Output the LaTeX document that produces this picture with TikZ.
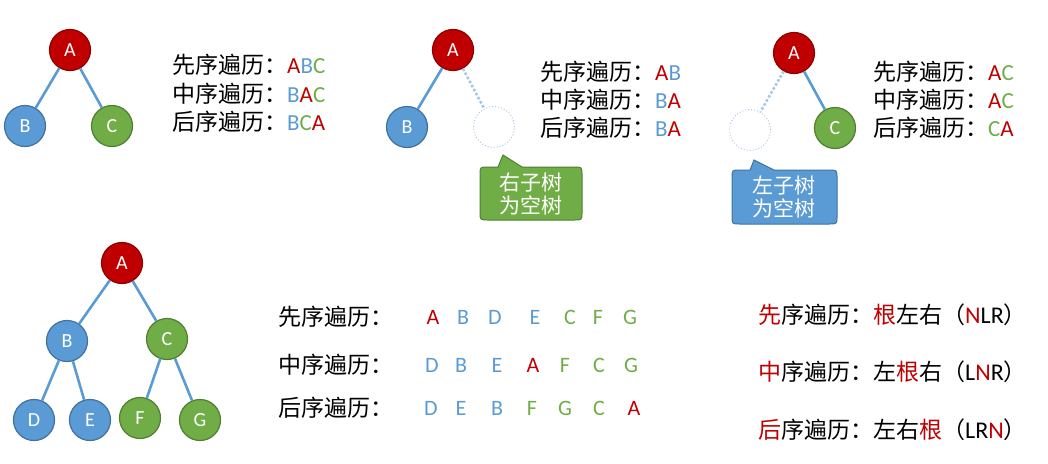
\documentclass[tikz,border=0pt]{standalone}
\usepackage{fontspec}
\setmainfont{Carlito}
\newfontfamily\cjk{Noto Sans CJK SC}
\definecolor{cred}{HTML}{C00000}
\definecolor{cblue}{HTML}{5B9BD5}
\definecolor{cgreen}{HTML}{70AD47}
\definecolor{credb}{HTML}{8E0000}
\definecolor{cblueb}{HTML}{41719C}
\definecolor{cgreenb}{HTML}{507E32}
\definecolor{clight}{HTML}{A9C8E8}
\newcommand\zh[1]{{\cjk #1}}
\newcommand\zhs[1]{{\cjk\fontsize{23}{27}\selectfont #1}}
\newcommand\R[1]{\textcolor{cred}{#1}}
\newcommand\B[1]{\textcolor{cblue}{#1}}
\newcommand\G[1]{\textcolor{cgreen}{#1}}
\tikzset{
  tnode/.style={circle,minimum size=41pt,inner sep=0pt,line width=1.2pt,text=white,font=\fontsize{20}{24}\selectfont},
  rnode/.style={tnode,fill=cred,draw=credb},
  bnode/.style={tnode,fill=cblue,draw=cblueb},
  gnode/.style={tnode,fill=cgreen,draw=cgreenb},
  enode/.style={circle,minimum size=41pt,inner sep=0pt,draw=clight,dotted,line width=1pt},
  edge/.style={draw=cblue,line width=2.6pt},
  dedge/.style={draw=clight,line width=2.6pt,dotted},
  lbl/.style={anchor=west,inner sep=0pt,font=\fontsize{23}{27}\selectfont},
  lbls/.style={anchor=west,inner sep=0pt,font=\fontsize{23}{27}\selectfont},
  rlbl/.style={anchor=west,inner sep=0pt,font=\fontsize{24}{28}\selectfont},
  let/.style={inner sep=0pt,font=\fontsize{22}{26}\selectfont},
  ctext/.style={align=center,text=white,inner sep=0pt,font=\fontsize{21}{23}\selectfont\cjk}
}
\begin{document}
\begin{tikzpicture}[x=1pt,y=-1pt]
\useasboundingbox (0,0) rectangle (1048,463);
% ---------- tree 1
\node[rnode] (t1A) at (70,50) {A};
\node[bnode] (t1B) at (25,126) {B};
\node[gnode] (t1C) at (112,126) {C};
\draw[edge] (t1A) -- (t1B);
\draw[edge] (t1A) -- (t1C);
\node[lbl] (t1l1) at (172,65) {\zh{先序遍历：}\R{A}\B{B}\G{C}};
\node[lbl] (t1l2) at (172,94) {\zh{中序遍历：}\B{B}\R{A}\G{C}};
\node[lbl] (t1l3) at (172,122) {\zh{后序遍历：}\B{B}\G{C}\R{A}};
% ---------- tree 2
\node[rnode] (t2A) at (453,50) {A};
\node[bnode] (t2B) at (407,127) {B};
\node[enode] (t2E) at (494,127) {};
\draw[edge] (t2A) -- (t2B);
\draw[dedge] (t2A) -- (t2E);
\node[lbl] (t2l1) at (540,72) {\zh{先序遍历：}\R{A}\B{B}};
\node[lbl] (t2l2) at (540,100) {\zh{中序遍历：}\B{B}\R{A}};
\node[lbl] (t2l3) at (540,128) {\zh{后序遍历：}\B{B}\R{A}};
\draw[fill=cgreen,draw=cgreenb,line width=1pt]
  (503,155) -- (498,167) -- (488,167) .. controls (480,167) .. (480,175)
  -- (480,212) .. controls (480,220) .. (488,220) -- (574,220)
  .. controls (582,220) .. (582,212) -- (582,175) .. controls (582,167) .. (574,167)
  -- (522,167) -- cycle;
\node[ctext] (t2c) at (531,194) {右子树\\为空树};
% ---------- tree 3
\node[rnode] (t3A) at (794,53) {A};
\node[gnode] (t3C) at (835,128) {C};
\node[enode] (t3E) at (750,130) {};
\draw[edge] (t3A) -- (t3C);
\draw[dedge] (t3A) -- (t3E);
\node[lbl] (t3l1) at (873,72) {\zh{先序遍历：}\R{A}\G{C}};
\node[lbl] (t3l2) at (873,100) {\zh{中序遍历：}\R{A}\G{C}};
\node[lbl] (t3l3) at (873,128) {\zh{后序遍历：}\G{C}\R{A}};
\draw[fill=cblue,draw=cblueb,line width=1pt]
  (754,160) -- (750,170) -- (740,170) .. controls (732,170) .. (732,178)
  -- (732,216) .. controls (732,224) .. (740,224) -- (829,224)
  .. controls (837,224) .. (837,216) -- (837,178) .. controls (837,170) .. (829,170)
  -- (774,170) -- cycle;
\node[ctext] (t3c) at (784,197) {左子树\\为空树};
% ---------- tree 4
\node[rnode] (t4A) at (122,263) {A};
\node[bnode] (t4B) at (67,341) {B};
\node[gnode] (t4C) at (167,339) {C};
\node[bnode] (t4D) at (34,420) {D};
\node[bnode] (t4E) at (90,420) {E};
\node[gnode] (t4F) at (140,418) {F};
\node[gnode] (t4G) at (200,420) {G};
\draw[edge] (t4A) -- (t4B);
\draw[edge] (t4A) -- (t4C);
\draw[edge] (t4B) -- (t4D);
\draw[edge] (t4B) -- (t4E);
\draw[edge] (t4C) -- (t4F);
\draw[edge] (t4C) -- (t4G);
\node[lbls] (t4l1) at (278,317) {\zh{先序遍历：}};
\node[lbls] (t4l2) at (278,365) {\zh{中序遍历：}};
\node[lbls] (t4l3) at (278,408) {\zh{后序遍历：}};
% row 1
\node[let] (r1a) at (433,317) {\R{A}};
\node[let] (r1b) at (463,317) {\B{B}};
\node[let] (r1c) at (495,317) {\B{D}};
\node[let] (r1d) at (535,317) {\B{E}};
\node[let] (r1e) at (570,317) {\G{C}};
\node[let] (r1f) at (598,317) {\G{F}};
\node[let] (r1g) at (630,317) {\G{G}};
% row 2
\node[let] (r2a) at (432,365) {\B{D}};
\node[let] (r2b) at (461,365) {\B{B}};
\node[let] (r2c) at (497,365) {\B{E}};
\node[let] (r2d) at (533,365) {\R{A}};
\node[let] (r2e) at (565,365) {\G{F}};
\node[let] (r2f) at (599,365) {\G{C}};
\node[let] (r2g) at (631,365) {\G{G}};
% row 3
\node[let] (r3a) at (431,408) {\B{D}};
\node[let] (r3b) at (461,408) {\B{E}};
\node[let] (r3c) at (497,408) {\B{B}};
\node[let] (r3d) at (532,408) {\G{F}};
\node[let] (r3e) at (565,408) {\G{G}};
\node[let] (r3f) at (599,408) {\G{C}};
\node[let] (r3g) at (634,408) {\R{A}};
% ---------- right block
\node[rlbl] (rb1) at (758,315) {\zhs{\R{先}序遍历：\R{根}左右（}\R{N}LR\zhs{）}};
\node[rlbl] (rb2) at (758,372) {\zhs{\R{中}序遍历：左\R{根}右（}L\R{N}R\zhs{）}};
\node[rlbl] (rb3) at (758,430) {\zhs{\R{后}序遍历：左右\R{根}（}LR\R{N}\zhs{）}};
\end{tikzpicture}
\end{document}
